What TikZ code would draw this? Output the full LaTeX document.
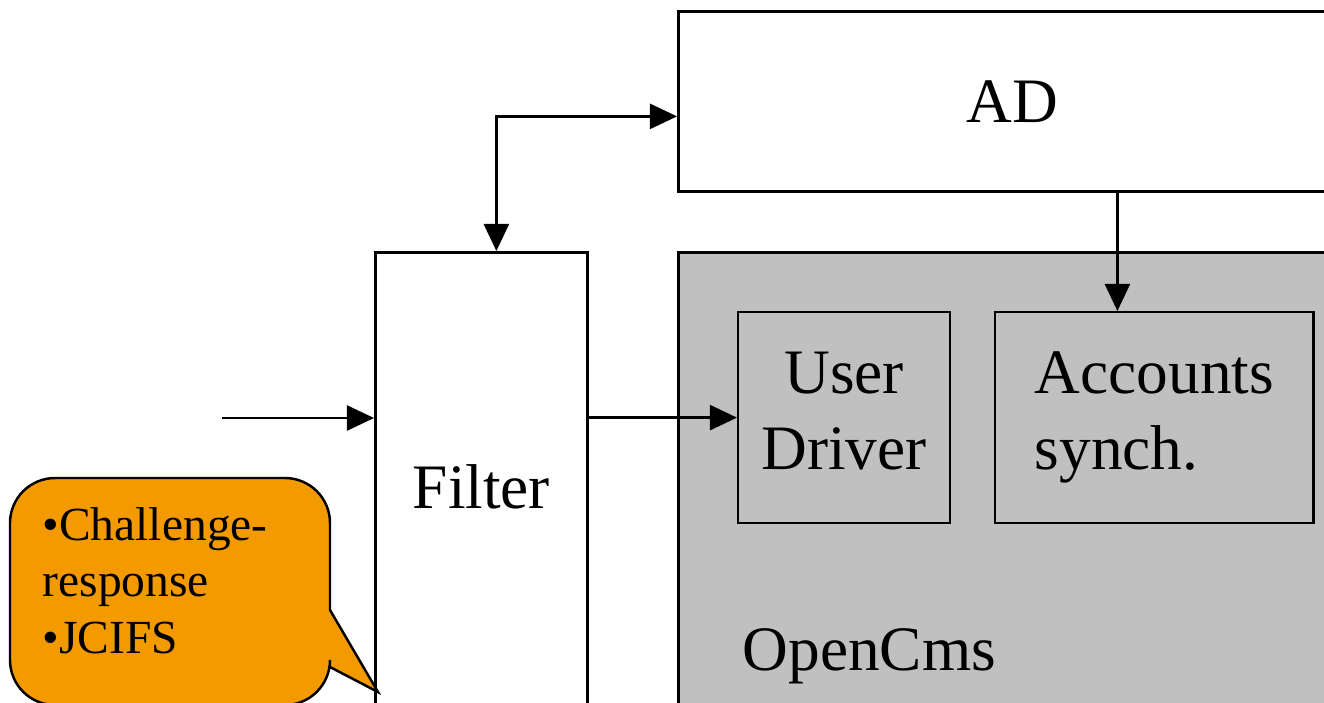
\documentclass[tikz,border=0pt]{standalone}
\usepackage{fontspec}
\setmainfont{Liberation Serif}
\usetikzlibrary{arrows.meta,positioning,calc}
\definecolor{cmsgray}{RGB}{192,192,192}
\definecolor{noteorange}{RGB}{242,154,0}
\tikzset{
  block/.style  = {draw, line width=0.75pt, rectangle, align=center,
                   inner sep=0pt, font=\fontsize{18}{21.6}\selectfont},
  subblock/.style = {block, line width=0.6pt, minimum width=2.12cm,
                   minimum height=2.11cm},
  sig/.style    = {-{Triangle[length=2.7mm,width=2.5mm]}, line width=0.7pt},
  dsig/.style   = {{Triangle[length=2.7mm,width=2.5mm]}-{Triangle[length=2.7mm,width=2.5mm]},
                   line width=0.7pt},
  note/.style   = {draw, line width=0.7pt, fill=noteorange},
}

\begin{document}
\begin{tikzpicture}[x=0.01cm, y=-0.01cm]
\path[use as bounding box, clip] (0,0) rectangle (1324,702);
\node[block, minimum width=6.68cm, minimum height=1.8cm, anchor=north west] (ad) at (677,10) {AD};
\node[block, minimum width=2.12cm, minimum height=4.68cm, anchor=north west] (filter) at (374,251) {Filter};
\node[block, fill=cmsgray, minimum width=6.7cm, minimum height=4.7cm, anchor=north west] (cms) at (677,251) {};
\node[font=\fontsize{18}{21.6}\selectfont, inner sep=0pt, anchor=base west] (cmsname) at (742,670) {OpenCms};
\node[subblock, anchor=north west] (drv) at (737,311) {User\\Driver\vphantom{y}};
\node[subblock, minimum width=3.18cm, align=left, right=0.43cm of drv] (acc) {Accounts\\synch.};

\coordinate (src) at (222,418);
\draw[sig] (src) -- (src -| filter.west);
\draw[sig] (filter.east |- drv.west) -- (drv.west);
\coordinate (fTop) at ($(filter.north)+(15,0)$);
\coordinate (adIn) at ($(ad.west)+(0,15)$);
\draw[dsig] (fTop) |- (adIn);
\coordinate (syIn) at ($(acc.north)+(-37,0)$);
\draw[sig] (syIn |- ad.south) -- (syIn);

% callout
\draw[note] (330,610) [rounded corners=0.45cm] -- (330,478) -- (10,478) -- (10,705) -- (330,705)
   [sharp corners] -- (330,667) -- (378,692) -- cycle;
\node[align=left, inner sep=0pt, anchor=north west, font=\fontsize{13.5}{16}\selectfont] (notetxt)
   at (42,507) {•Challenge-\\response\\•JCIFS};
\end{tikzpicture}
\end{document}
